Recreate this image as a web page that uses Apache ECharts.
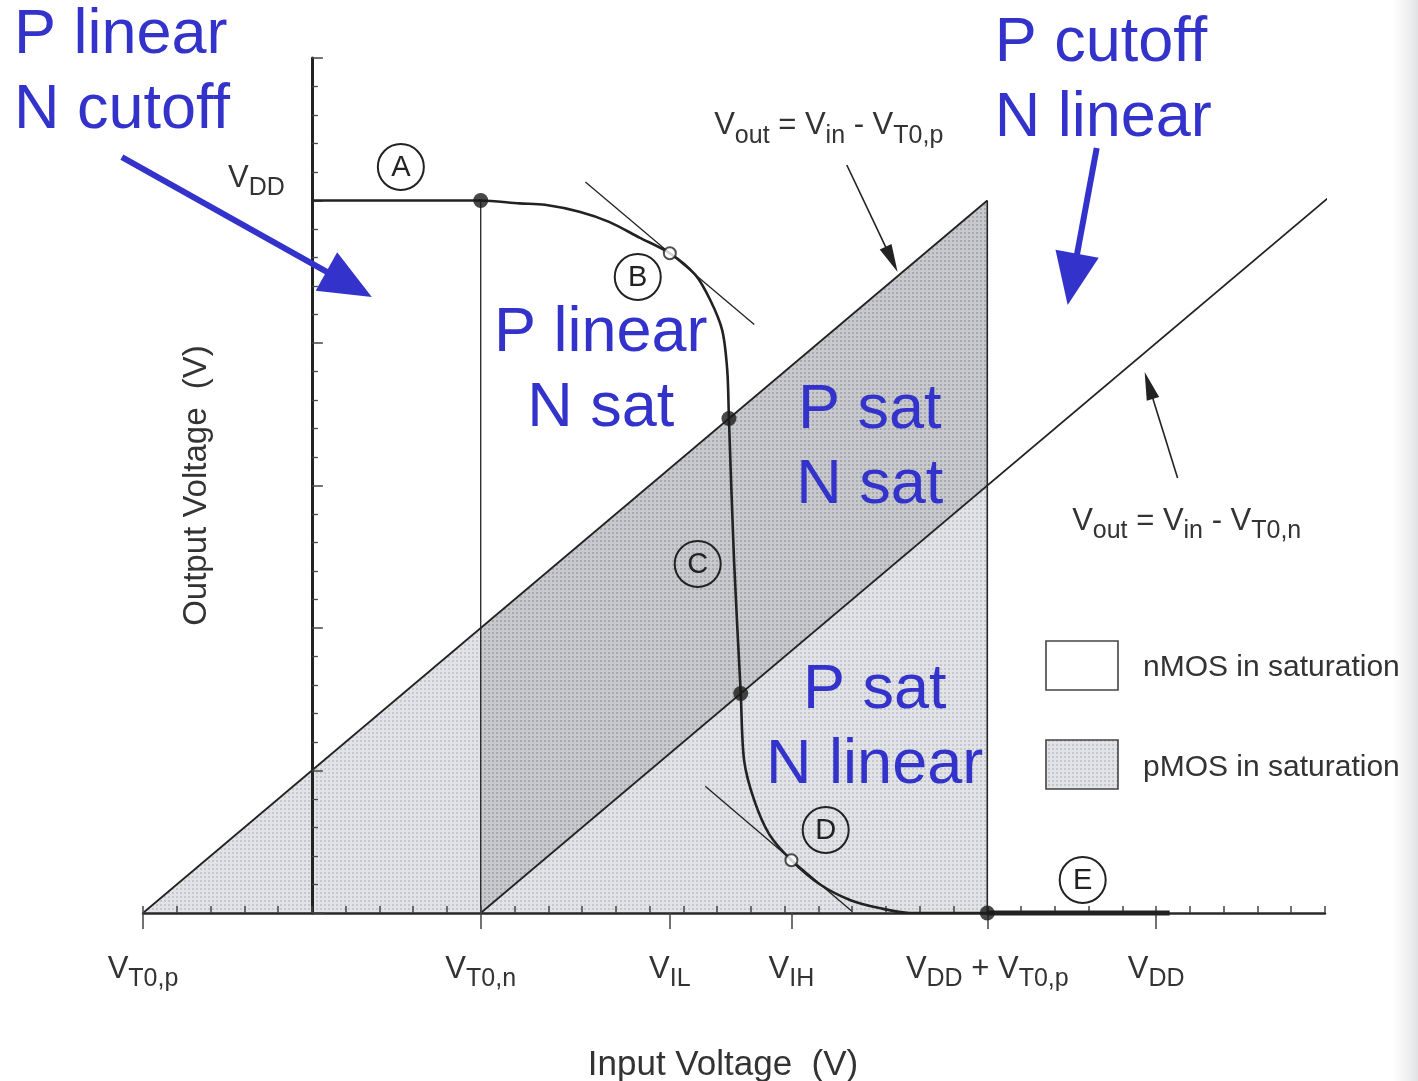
<!DOCTYPE html>
<html>
<head>
<meta charset="utf-8">
<title>CMOS inverter VTC</title>
<script src="https://cdn.jsdelivr.net/npm/echarts@6/dist/echarts.min.js"></script>
<style>
  html, body { margin: 0; padding: 0; background: #fff; }
  #main { width: 1418px; height: 1081px; }
</style>
</head>
<body>
<div id="main"></div>
<script>
// voltages in V (VDD = 5, VT0,n = 1, VT0,p = -1)
var VDD = 5;
var VT0n = 1;
var VT0p = -1;
var VIL = 2.12;
var VIH = 2.84;

// voltage transfer curve
var vtcIn  = [0, 1.0, 1.23, 1.38, 1.59, 1.76, 1.94, 2.12, 2.27, 2.36, 2.43, 2.46, 2.47, 2.50, 2.54, 2.56, 2.62, 2.71, 2.84, 3.01, 3.19, 3.36, 3.54, 4.0];
var vtcOut = [5, 5.0, 4.98, 4.97, 4.92, 4.85, 4.74, 4.63, 4.48, 4.30, 4.09, 3.81, 3.47, 2.48, 1.54, 1.07, 0.79, 0.55, 0.37, 0.20, 0.09, 0.035, 0, 0];
var tailLine = [[4.0, 0], [5.08, 0]];

// marked points
var solidPoints = [[1.0, 5.0], [2.47, 3.47], [2.54, 1.54], [4.0, 0]];
var openPoints = [[VIL, 4.63], [VIH, 0.37]];

// tangents with slope -1 at VIL and VIH
var tangentB = [[1.62, 5.13], [2.62, 4.13]];
var tangentD = [[2.33, 0.89], [3.20, 0.01]];

// boundary lines
var lineP = [[VT0p, 0], [VDD + VT0p, VDD]];        // Vout = Vin - VT0,p
var lineN = [[VT0n, 0], [6.05, 5.05]];              // Vout = Vin - VT0,n
var vertN = [[VT0n, 0], [VT0n, VDD]];
var vertP = [[VDD + VT0p, 0], [VDD + VT0p, VDD]];

// regions
var pSatRegion = [[VT0p, 0], [VDD + VT0p, VDD], [VDD + VT0p, 0]];
var bothSatRegion = [[VT0n, 0], [VT0n, VT0n - VT0p], [VDD + VT0p, VDD], [VDD + VT0p, VDD + VT0p - VT0n]];

// tick labels
var xTickValues = [VT0p, VT0n, VIL, VIH, VDD + VT0p, VDD];
var xTickLabels = ['V_{T0,p}', 'V_{T0,n}', 'V_{IL}', 'V_{IH}', 'V_{DD} + V_{T0,p}', 'V_{DD}'];
var yTickValues = [VDD];
var yTickLabels = ['V_{DD}'];

// region names [text, Vin, Vout, align]
var regionNames = [
  ['P linear\nN cutoff', -1.764, 5.895, 'left'],
  ['P cutoff\nN linear', 4.044, 5.835, 'left'],
  ['P linear\nN sat', 1.711, 3.805, 'center'],
  ['P sat\nN sat', 3.304, 3.262, 'center'],
  ['P sat\nN linear', 3.333, 1.300, 'center']
];
var blueArrows = [
  [[-1.125, 5.305], [0.355, 4.323]],
  [[4.648, 5.368], [4.476, 4.267]]
];
var blackArrows = [
  [[3.168, 5.249], [3.469, 4.498]],
  [[5.127, 3.053], [4.932, 3.796]]
];
var formulas = [
  ['V_{out} = V_{in} - V_{T0,p}', 3.061, 5.475],
  ['V_{out} = V_{in} - V_{T0,n}', 5.181, 2.698]
];
var circleLabels = [
  ['A', 0.527, 5.235],
  ['B', 1.930, 4.463],
  ['C', 2.285, 2.449],
  ['D', 3.043, 0.582],
  ['E', 4.565, 0.232]
];

var X_MIN = -1, X_MAX = 6;
var GRID = { left: 143, right: 93, top: 58, bottom: 168 };

var FONT = '"Liberation Sans", Arial, sans-serif';
var TXT = '#333';
var INK = '#222';
var BLUE = '#3333cc';

function dotPattern(bg, dot) {
  var c = document.createElement('canvas');
  c.width = 4; c.height = 4;
  var g = c.getContext('2d');
  g.fillStyle = bg; g.fillRect(0, 0, 4, 4);
  g.fillStyle = dot; g.fillRect(0, 0, 2, 2);
  return { image: c, repeat: 'repeat' };
}
var lightFill = dotPattern('#e2e3e6', '#c6c7cc');
var darkFill = dotPattern('#c8c9cd', '#a9aaaf');

// 'V_{DD} + V_{T0,p}' -> rich markup
function toRich(s) {
  var out = '', re = /_\{([^}]*)\}/g, last = 0, m;
  while ((m = re.exec(s))) {
    if (m.index > last) out += '{v|' + s.slice(last, m.index) + '}';
    out += '{s|' + m[1] + '}';
    last = re.lastIndex;
  }
  if (last < s.length) out += '{v|' + s.slice(last) + '}';
  return out;
}
function labelFor(values, labels) {
  return function (val) {
    for (var i = 0; i < values.length; i++) {
      if (Math.abs(values[i] - val) < 1e-6) return toRich(labels[i]);
    }
    return '';
  };
}
var richAxis = {
  v: { fontSize: 31, lineHeight: 31, padding: [0, 0, 7, 0], verticalAlign: 'bottom', fontFamily: FONT, color: TXT },
  s: { fontSize: 25, lineHeight: 25, verticalAlign: 'bottom', fontFamily: FONT, color: TXT }
};

function polygonRender(points, fill) {
  return function (params, api) {
    return {
      type: 'polygon',
      shape: { points: points.map(function (p) { return api.coord(p); }) },
      style: { fill: fill }
    };
  };
}
function segment(data, width, z) {
  return {
    type: 'line', data: data, symbol: 'none', silent: true, clip: false, z: z || 2,
    lineStyle: { color: INK, width: width }
  };
}

// the y axis sits at Vin = 0, not at the grid's left edge
var gridWidth = 1418 - GRID.left - GRID.right;
var yAxisOffset = -(0 - X_MIN) / (X_MAX - X_MIN) * gridWidth;

var option = {
  backgroundColor: '#fff',
  animation: false,
  grid: { left: GRID.left, right: GRID.right, top: GRID.top, bottom: GRID.bottom, containLabel: false, outerBoundsMode: 'none' },
  xAxis: [{
    type: 'value', min: X_MIN, max: X_MAX, interval: 0.2, position: 'bottom', z: 3,
    name: 'Input Voltage  (V)', nameLocation: 'middle', nameGap: 135,
    nameTextStyle: { fontSize: 35, fontFamily: FONT, color: TXT, padding: [0, 22, 0, 0] },
    axisLine: { show: true, onZero: false, lineStyle: { color: '#2a2a2a', width: 2.5 } },
    axisTick: { show: true, inside: true, length: 7, lineStyle: { color: '#444', width: 1.5 } },
    axisLabel: { show: false },
    splitLine: { show: false }
  }, {
    type: 'value', min: X_MIN, max: X_MAX, position: 'bottom', z: 3,
    axisLine: { show: false, onZero: false },
    axisTick: { show: true, inside: false, length: 16, customValues: xTickValues, lineStyle: { color: '#444', width: 1.5 } },
    axisLabel: { show: true, margin: 48, customValues: xTickValues, formatter: labelFor(xTickValues, xTickLabels), rich: richAxis },
    splitLine: { show: false }
  }],
  yAxis: {
    type: 'value', min: 0, max: 6, interval: 1, position: 'left', offset: yAxisOffset, z: 3,
    name: 'Output Voltage  (V)', nameLocation: 'middle', nameGap: 98,
    nameTextStyle: { fontSize: 33, fontFamily: FONT, color: TXT },
    axisLine: { show: true, onZero: false, lineStyle: { color: INK, width: 3 } },
    axisTick: { show: true, inside: true, length: 11, lineStyle: { color: '#444', width: 1.5 } },
    minorTick: { show: true, splitNumber: 5, length: 6, lineStyle: { color: '#444', width: 1.3 } },
    axisLabel: { show: true, margin: 27, verticalAlign: 'bottom', customValues: yTickValues, formatter: labelFor(yTickValues, yTickLabels), rich: richAxis },
    splitLine: { show: false },
    minorSplitLine: { show: false }
  },
  series: [
    { type: 'custom', name: 'pMOS in saturation', data: [pSatRegion[0]], renderItem: polygonRender(pSatRegion, lightFill), silent: true, z: 1 },
    { type: 'custom', name: 'both in saturation', data: [bothSatRegion[0]], renderItem: polygonRender(bothSatRegion, darkFill), silent: true, z: 1 },
    segment(lineP, 1.8),
    segment(lineN, 1.8),
    segment(vertN, 1.3),
    segment(vertP, 1.6),
    segment(tangentB, 1.3),
    segment(tangentD, 1.3),
    segment(tailLine, 5, 4),
    {
      type: 'line', name: 'VTC', smooth: 0.3, symbol: 'none', silent: true, z: 4,
      data: vtcIn.map(function (v, i) { return [v, vtcOut[i]]; }),
      lineStyle: { color: INK, width: 2.6 }
    },
    {
      type: 'scatter', data: solidPoints, symbol: 'circle', symbolSize: 15, silent: true,
      itemStyle: { color: '#1a1a1a' }, z: 5
    },
    {
      type: 'scatter', data: openPoints, symbol: 'circle', symbolSize: 12, silent: true,
      itemStyle: { color: '#fff', borderColor: INK, borderWidth: 2 }, z: 5
    }
  ]
};

var chart = echarts.init(document.getElementById('main'));
chart.setOption(option);

function px(p) { return chart.convertToPixel({ xAxisIndex: 0, yAxisIndex: 0 }, p); }

function arrow(from, to, color, width, headLen, headW) {
  var a = px(from), b = px(to);
  var dx = b[0] - a[0], dy = b[1] - a[1];
  var L = Math.sqrt(dx * dx + dy * dy);
  var ux = dx / L, uy = dy / L;
  var bx = b[0] - ux * headLen, by = b[1] - uy * headLen;
  return [
    { type: 'line', silent: true, z: 20, shape: { x1: a[0], y1: a[1], x2: bx + ux * 2, y2: by + uy * 2 }, style: { stroke: color, lineWidth: width } },
    { type: 'polygon', silent: true, z: 20, shape: { points: [[b[0], b[1]], [bx - uy * headW / 2, by + ux * headW / 2], [bx + uy * headW / 2, by - ux * headW / 2]] }, style: { fill: color } }
  ];
}

var richGraphic = {
  v: { fontSize: 31, lineHeight: 31, padding: [0, 0, 7, 0], verticalAlign: 'bottom', fontFamily: FONT, fill: TXT },
  s: { fontSize: 25, lineHeight: 25, verticalAlign: 'bottom', fontFamily: FONT, fill: TXT }
};

var graphics = [];

// faint scan shadow at the right edge
graphics.push({
  type: 'rect', silent: true, z: -1, shape: { x: 1392, y: 0, width: 26, height: 1081 },
  style: { fill: new echarts.graphic.LinearGradient(0, 0, 1, 0, [{ offset: 0, color: 'rgba(235,235,235,0)' }, { offset: 1, color: 'rgba(225,226,228,1)' }]) }
});

regionNames.forEach(function (r) {
  var p = px([r[1], r[2]]);
  graphics.push({
    type: 'text', silent: true, x: p[0], y: p[1], z: 20,
    style: { text: r[0], fontSize: 63, fontFamily: FONT, lineHeight: 75, fill: BLUE, align: r[3], verticalAlign: 'middle' }
  });
});

blueArrows.forEach(function (a) {
  graphics = graphics.concat(arrow(a[0], a[1], BLUE, 6, 52, 44));
});
blackArrows.forEach(function (a) {
  graphics = graphics.concat(arrow(a[0], a[1], INK, 1.6, 28, 13));
});

formulas.forEach(function (f) {
  var p = px([f[1], f[2]]);
  graphics.push({
    type: 'text', silent: true, x: p[0], y: p[1], z: 20,
    style: { text: toRich(f[0]), rich: richGraphic, align: 'center', verticalAlign: 'middle', fontFamily: FONT, fill: TXT }
  });
});

circleLabels.forEach(function (c) {
  var p = px([c[1], c[2]]);
  graphics.push({
    type: 'circle', silent: true, z: 20, shape: { cx: p[0], cy: p[1], r: 23 },
    style: { fill: 'rgba(0,0,0,0)', stroke: INK, lineWidth: 2 }
  });
  graphics.push({
    type: 'text', silent: true, z: 21, x: p[0], y: p[1] + 1,
    style: { text: c[0], fontSize: 29, fontFamily: FONT, fill: INK, align: 'center', verticalAlign: 'middle' }
  });
});

// legend
graphics.push({
  type: 'rect', silent: true, z: 20, shape: { x: 1046, y: 641, width: 72, height: 49 },
  style: { fill: '#fff', stroke: '#444', lineWidth: 1.6 }
});
graphics.push({
  type: 'text', silent: true, z: 20, x: 1143, y: 668,
  style: { text: 'nMOS in saturation', fontSize: 30, fontFamily: FONT, fill: TXT, align: 'left', verticalAlign: 'middle' }
});
graphics.push({
  type: 'rect', silent: true, z: 20, shape: { x: 1046, y: 740, width: 72, height: 49 },
  style: { fill: lightFill, stroke: '#444', lineWidth: 1.6 }
});
graphics.push({
  type: 'text', silent: true, z: 20, x: 1143, y: 768,
  style: { text: 'pMOS in saturation', fontSize: 30, fontFamily: FONT, fill: TXT, align: 'left', verticalAlign: 'middle' }
});

chart.setOption({ graphic: graphics });
</script>
</body>
</html>
